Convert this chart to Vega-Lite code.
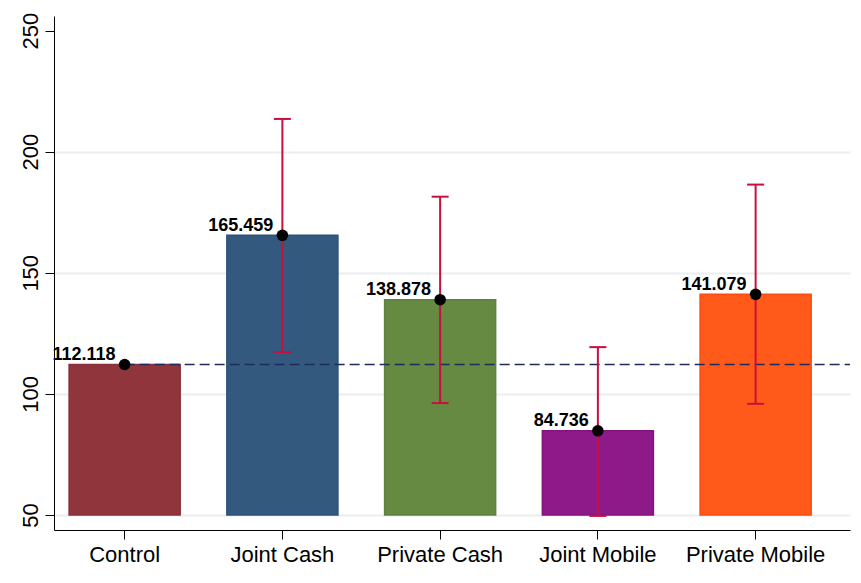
{
  "$schema": "https://vega.github.io/schema/vega-lite/v6.json",
  "width": 796,
  "height": 514,
  "autosize": {"type": "none"},
  "padding": {"left": 54, "top": 16, "right": 11, "bottom": 53},
  "background": "white",
  "config": {"view": {"stroke": null}, "font": "Liberation Sans"},
  "data": {
    "values": [
      {"group": "Control", "mean": 112.118, "lo": null, "hi": null},
      {"group": "Joint Cash", "mean": 165.459, "lo": 117.3, "hi": 213.5},
      {"group": "Private Cash", "mean": 138.878, "lo": 96.2, "hi": 181.4},
      {"group": "Joint Mobile", "mean": 84.736, "lo": 49.6, "hi": 119.3},
      {"group": "Private Mobile", "mean": 141.079, "lo": 95.9, "hi": 186.4}
    ]
  },
  "encoding": {
    "x": {
      "field": "group",
      "type": "nominal",
      "sort": null,
      "scale": {"paddingInner": 0.296, "paddingOuter": 0.171, "align": 0.28},
      "axis": {
        "title": null,
        "labelAngle": 0,
        "labelFontSize": 22,
        "labelColor": "black",
        "tickSize": 9,
        "tickColor": "black",
        "domainColor": "black",
        "labelPadding": 5,
        "grid": false
      }
    }
  },
  "layer": [
    {
      "mark": {"type": "bar", "strokeWidth": 1.5},
      "encoding": {
        "y": {
          "field": "mean",
          "type": "quantitative",
          "scale": {"domain": [43.8, 256], "nice": false, "zero": false},
          "axis": {
            "title": null,
            "values": [50, 100, 150, 200, 250],
            "labelAngle": 270,
            "labelAlign": "center",
            "labelBaseline": "alphabetic",
            "labelFontSize": 22,
            "labelColor": "black",
            "labelPadding": 8,
            "tickSize": 9,
            "tickColor": "black",
            "domainColor": "black",
            "gridColor": "#E9EEF2",
            "gridWidth": 2,
            "gridOpacity": {"expr": "datum.value == 250 ? 0 : 1"}
          }
        },
        "y2": {"datum": 50},
        "fill": {
          "field": "group",
          "type": "nominal",
          "sort": null,
          "scale": {"range": ["#90353B", "#335A7E", "#668A42", "#8E1A8A", "#FF5A1A"]},
          "legend": null
        },
        "stroke": {
          "field": "group",
          "type": "nominal",
          "sort": null,
          "scale": {"range": ["#85303A", "#2B5179", "#5E8040", "#84127F", "#FF4A10"]},
          "legend": null
        }
      }
    },
    {
      "transform": [{"filter": "datum.group == 'Control'"}],
      "mark": {"type": "rule", "color": "#1F2B5A", "strokeWidth": 1.3, "strokeDash": [10, 5]},
      "encoding": {
        "y": {"field": "mean", "type": "quantitative"},
        "x2": {"value": "width"}
      }
    },
    {
      "transform": [{"filter": "datum.hi != null"}],
      "mark": {"type": "rule", "color": "#C8103E", "strokeWidth": 2},
      "encoding": {
        "y": {"field": "lo", "type": "quantitative"},
        "y2": {"field": "hi"}
      }
    },
    {
      "transform": [{"filter": "datum.hi != null"}],
      "mark": {"type": "tick", "color": "#C8103E", "thickness": 2, "size": 17, "opacity": 1},
      "encoding": {"y": {"field": "hi", "type": "quantitative"}}
    },
    {
      "transform": [{"filter": "datum.hi != null"}],
      "mark": {"type": "tick", "color": "#C8103E", "thickness": 2, "size": 17, "opacity": 1},
      "encoding": {"y": {"field": "lo", "type": "quantitative"}}
    },
    {
      "mark": {"type": "point", "shape": "circle", "filled": true, "color": "black", "size": 133, "opacity": 1},
      "encoding": {"y": {"field": "mean", "type": "quantitative"}}
    },
    {
      "mark": {"type": "text", "align": "right", "baseline": "alphabetic", "dx": -9, "dy": -4.5, "fontSize": 18, "fontWeight": "bold", "color": "black"},
      "encoding": {
        "y": {"field": "mean", "type": "quantitative"},
        "text": {"field": "mean", "type": "quantitative", "format": ".3f"}
      }
    }
  ]
}
